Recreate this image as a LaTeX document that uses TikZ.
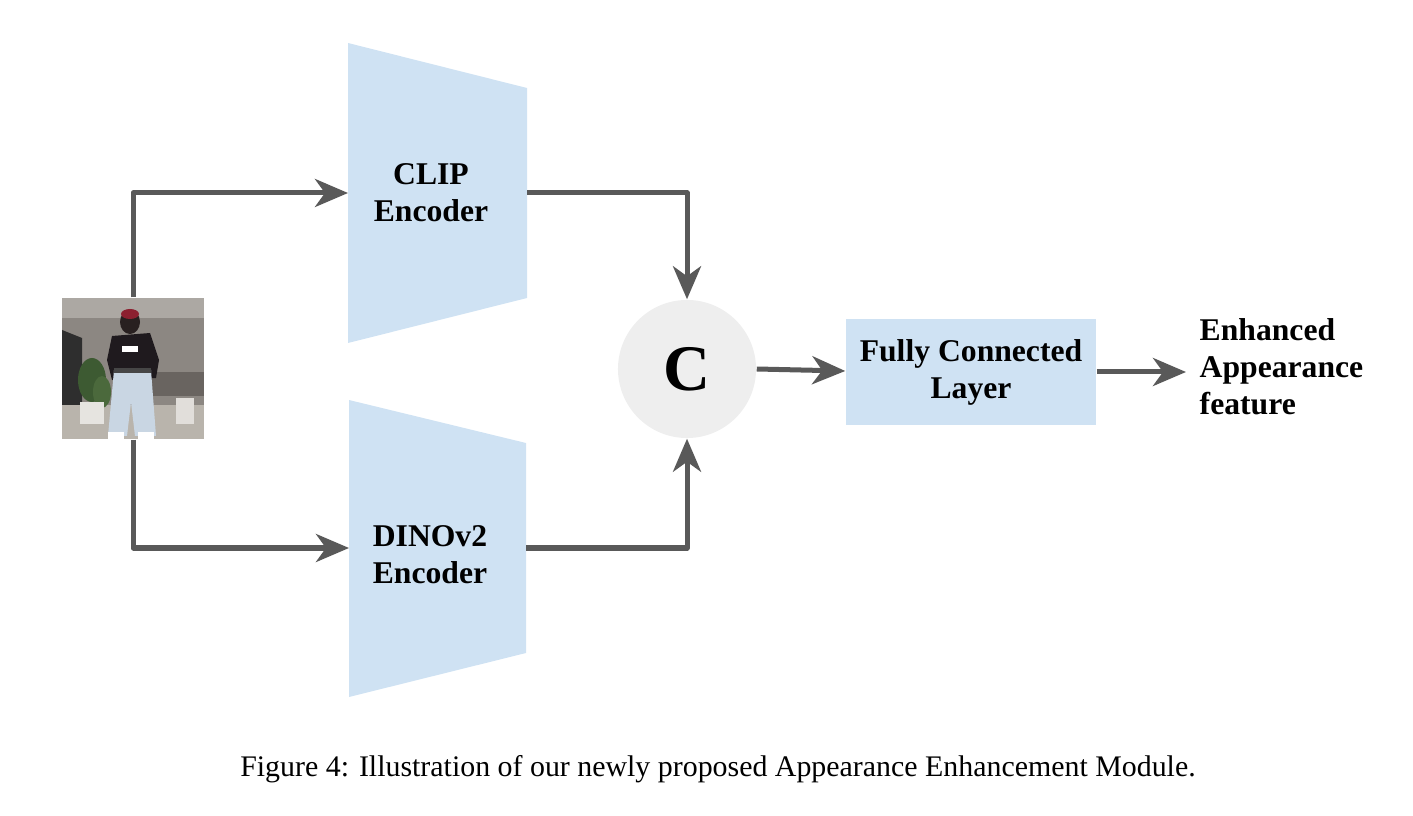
\documentclass[tikz,border=0pt]{standalone}
\usepackage{fontspec}
\setmainfont{Liberation Serif}
\usetikzlibrary{arrows.meta}
\definecolor{arrowgray}{HTML}{595959}
\definecolor{encblue}{HTML}{CFE2F3}
\definecolor{cgray}{HTML}{EEEEEE}
\begin{document}
\begin{tikzpicture}[x=0.01cm,y=-0.01cm,
  conn/.style={draw=arrowgray, line width=0.05cm, line join=round,
    -{Stealth[length=0.33cm,width=0.28cm,inset=0.10cm]}},
  lbl/.style={font=\bfseries\fontsize{9}{10.5}\selectfont, align=center, inner sep=0pt},
  encshape/.style={fill=encblue, draw=none}]
\useasboundingbox (0,0) rectangle (1413,816);
% encoders
\fill[encshape] (348,43) -- (527,88) -- (527,298) -- (348,343) -- cycle;
\fill[encshape] (349,400) -- (526,443) -- (526,653) -- (349,697) -- cycle;
\node[lbl] (cliplbl) at (431,193) {CLIP\\Encoder};
\node[lbl] (dinolbl) at (430,555) {DINOv2\\Encoder};
\coordinate (clipin) at (348,193);
\coordinate (clipout) at (527,193);
\coordinate (dinoin) at (349,548);
\coordinate (dinoout) at (526,548);
% photo scene
\begin{scope}
\clip (62,298) rectangle (204,439);
\fill[fill={rgb,255:red,140;green,135;blue,130}] (62,298) rectangle (204,439);
\fill[fill={rgb,255:red,172;green,168;blue,163}] (62,298) rectangle (204,318);
\fill[fill={rgb,255:red,46;green,46;blue,46}] (62,330) -- (82,338) -- (82,412) -- (62,422) -- cycle;
\fill[fill={rgb,255:red,105;green,100;blue,96}] (150,372) rectangle (204,396);
\fill[fill={rgb,255:red,185;green,180;blue,172}] (62,405) rectangle (204,439);
\fill[fill={rgb,255:red,61;green,90;blue,50}] (92,380) ellipse (14 and 22);
\fill[fill={rgb,255:red,75;green,105;blue,60}] (102,392) ellipse (9 and 16);
\fill[fill={rgb,255:red,230;green,228;blue,224}] (80,402) rectangle (104,424);
\fill[fill={rgb,255:red,225;green,222;blue,218}] (176,398) rectangle (194,424);
\fill[fill={rgb,255:red,31;green,26;blue,30}] (112,336) -- (150,333) -- (159,360) -- (156,378) -- (112,380) -- (107,360) -- cycle;
\fill[fill={rgb,255:red,40;green,32;blue,32}] (130,322) ellipse (10 and 12);
\fill[fill={rgb,255:red,140;green,32;blue,48}] (130,314) ellipse (9 and 5);
\fill[white] (122,346) rectangle (138,352);
\fill[fill={rgb,255:red,201;green,214;blue,227}] (114,370) -- (151,370) -- (156,436) -- (135,436) -- (131,402) -- (127,436) -- (108,436) -- cycle;
\fill[fill={rgb,255:red,70;green,70;blue,70}] (114,368) rectangle (151,373);
\fill[white] (108,432) rectangle (124,439);
\fill[white] (138,432) rectangle (154,439);
\end{scope}
\node[minimum width=1.42cm, minimum height=1.41cm, inner sep=0pt] (photo) at (133,368.5) {};
% concat
\node[circle, fill=cgray, minimum size=1.38cm, inner sep=0pt,
  font=\bfseries\fontsize{18.5}{20}\selectfont] (concat) at (687,369) {C};
% fully connected
\node[lbl, fill=encblue, minimum width=2.50cm, minimum height=1.06cm] (fc) at (971,372) {Fully Connected\\Layer};
% output
\node[lbl, align=left, anchor=west] (out) at (1199,367) {Enhanced\\Appearance\\feature};
% connectors
\draw[conn] (photo.north) |- (clipin);
\draw[conn] (photo.south) |- (dinoin);
\draw[conn] (clipout) -| (concat.north);
\draw[conn] (dinoout) -| (concat.south);
\draw[conn] (concat.east) -- ([yshift=0.01cm]fc.west);
\draw[conn, shorten >=0.13cm] (fc.east) -- (fc.east -| out.west);
% caption
\node[font=\fontsize{8.5}{10}\selectfont, inner sep=0pt] (caption) at (718,769) {Figure 4: Illustration of our newly proposed Appearance Enhancement Module.};
\end{tikzpicture}
\end{document}
